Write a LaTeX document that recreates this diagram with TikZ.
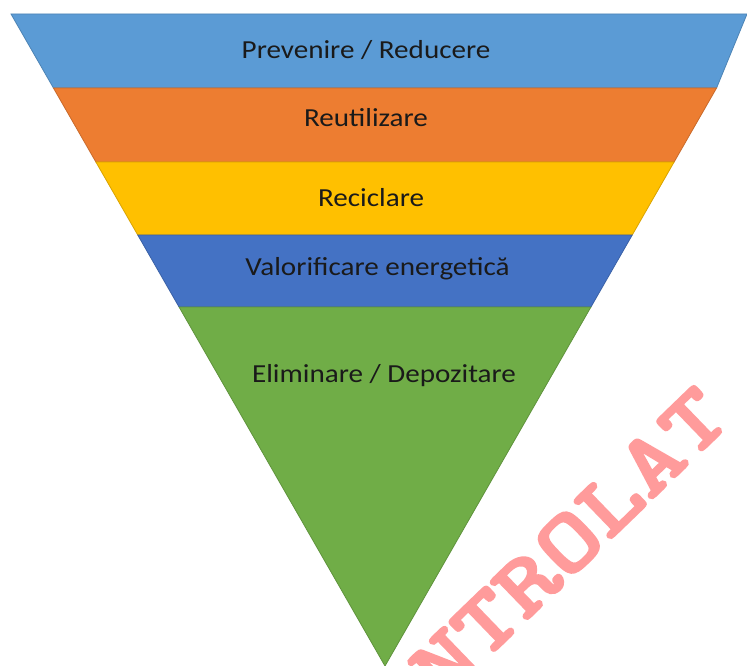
\documentclass[tikz,border=0pt]{standalone}
\usepackage{fontspec}
\setmainfont{Carlito}
\newfontfamily\wmfont{lmmonolt10-bold.otf}[FakeBold=2]
\usetikzlibrary{calc}
\definecolor{cblue}{HTML}{5B9BD5}
\definecolor{corange}{HTML}{ED7D31}
\definecolor{cyellow}{HTML}{FFC000}
\definecolor{cdblue}{HTML}{4472C4}
\definecolor{cgreen}{HTML}{70AD47}
\definecolor{ctext}{HTML}{1A1A1A}
\definecolor{cwm}{RGB}{255,155,155}
\tikzset{
  band/.style={line width=0.8pt, line join=miter},
  label/.style={anchor=base, text=ctext, inner sep=0pt, xscale=1.12, font=\fontsize{26}{30}\selectfont},
  wmark/.style={anchor=base, text=cwm, inner sep=0pt, font=\wmfont\fontsize{88}{88}\selectfont}
}
\begin{document}
\begin{tikzpicture}[x=1pt,y=-1pt]
\useasboundingbox (0,0) rectangle (747,666);
\clip (0,0) rectangle (747,666);
\fill[white] (0,0) rectangle (747,666);
\coordinate (TL) at (11,14);
\coordinate (TR) at (759,14);
\coordinate (TRv) at (747,14);
\coordinate (B) at (385,666);
\coordinate (L1) at ($(TL)!0.11350!(B)$);
\coordinate (R1) at ($(TR)!0.11350!(B)$);
\coordinate (L2) at ($(TL)!0.22699!(B)$);
\coordinate (R2) at ($(TR)!0.22699!(B)$);
\coordinate (L3) at ($(TL)!0.33896!(B)$);
\coordinate (R3) at ($(TR)!0.33896!(B)$);
\coordinate (L4) at ($(TL)!0.44939!(B)$);
\coordinate (R4) at ($(TR)!0.44939!(B)$);
\filldraw[band, fill=cblue, draw=cblue!85!black] (TL) -- (TRv) -- (R1) -- (L1) -- cycle;
\filldraw[band, fill=corange, draw=corange!85!black] (L1) -- (R1) -- (R2) -- (L2) -- cycle;
\filldraw[band, fill=cyellow, draw=cyellow!85!black] (L2) -- (R2) -- (R3) -- (L3) -- cycle;
\filldraw[band, fill=cdblue, draw=cdblue!85!black] (L3) -- (R3) -- (R4) -- (L4) -- cycle;
\filldraw[band, fill=cgreen, draw=cgreen!85!black] (L4) -- (R4) -- (B) -- cycle;
\node[label] (t1) at (366,59) {Prevenire / Reducere};
\node[label] (t2) at (366,127) {Reutilizare};
\node[label] (t3) at (371,206) {Reciclare};
\node[label] (t4) at (377.5,275) {Valorificare energetică};
\node[label] (t5) at (384,382) {Eliminare / Depozitare};
\node[wmark, rotate=44, xscale=1.25] (wm) at (546,602) {CONTROLAT};
\end{tikzpicture}
\end{document}
